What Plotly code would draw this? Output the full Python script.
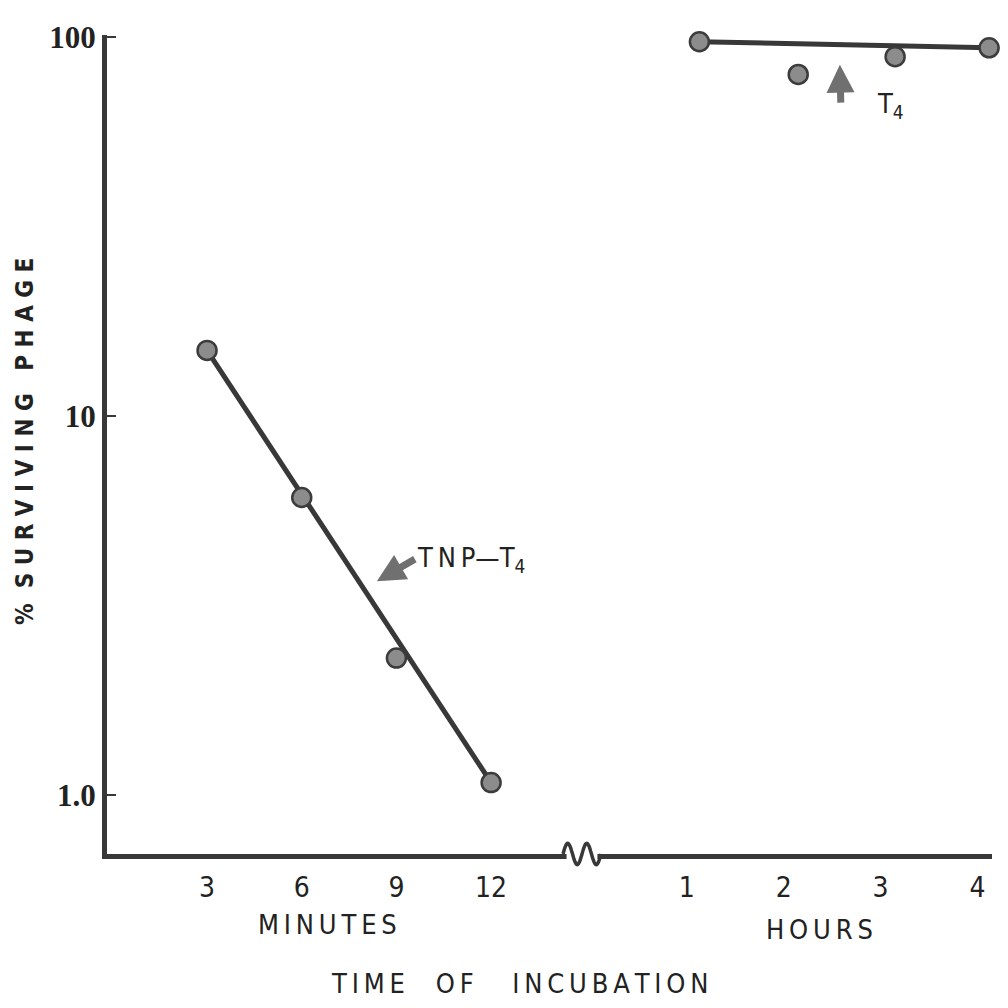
import numpy as np
import plotly.graph_objects as go

# ---- data ----
minutes = [3, 6, 9, 12]
tnp_t4 = [14.9, 6.1, 2.3, 1.08]          # % surviving, TNP-T4
hours = [1.13, 2.15, 3.15, 4.12]
t4 = [97.1, 79.6, 88.7, 93.6]            # % surviving, T4
min_ticks = [3, 6, 9, 12]
hour_ticks = [1, 2, 3, 4]
y_ticks = [1, 10, 100]
y_ticktext = ["1.0", "10", "100"]

# broken x axis: hours drawn after the minute segment
HOUR_ORIGIN = 15.13
HOUR_SCALE = 3.07
def hpos(h):
    return [HOUR_ORIGIN + HOUR_SCALE * v for v in h]

INK = "#222222"
LINE = "#383838"
MFILL = "#8c8c8c"
COND = "DejaVu Sans Condensed"
TS = "\u2009"  # thin space for letter spacing

def spaced(s):
    return TS.join(s)

fig = go.Figure()
# fitted lines
fig.add_trace(go.Scatter(x=[minutes[0], minutes[-1]], y=[tnp_t4[0], tnp_t4[-1]],
                         mode="lines", line=dict(color=LINE, width=5),
                         hoverinfo="skip", showlegend=False, cliponaxis=False))
fig.add_trace(go.Scatter(x=[hpos(hours)[0], hpos(hours)[-1]], y=[t4[0], t4[-1]],
                         mode="lines", line=dict(color=LINE, width=5),
                         hoverinfo="skip", showlegend=False, cliponaxis=False))
# points
marker = dict(size=19, color=MFILL, line=dict(color="#3c3c3c", width=2.5))
fig.add_trace(go.Scatter(x=minutes, y=tnp_t4, mode="markers", marker=marker,
                         name="TNP-T4", showlegend=False, cliponaxis=False))
fig.add_trace(go.Scatter(x=hpos(hours), y=t4, mode="markers", marker=marker,
                         name="T4", showlegend=False, cliponaxis=False))

tickvals = min_ticks + hpos(hour_ticks)
ticktext = [str(v) for v in min_ticks] + [str(v) for v in hour_ticks]

fig.update_layout(
    width=1000, height=1000,
    margin=dict(l=99, r=16, t=17, b=154),
    paper_bgcolor="white", plot_bgcolor="white",
    xaxis=dict(range=[-0.17, 27.87], showgrid=False, zeroline=False,
               showline=True, linecolor=LINE, linewidth=5,
               tickvals=tickvals, ticktext=ticktext, ticks="",
               ticklabelstandoff=4, ticklabeloverflow="allow",
               tickfont=dict(family=COND, size=28, color=INK)),
    yaxis=dict(type="log", range=[np.log10(0.7), 2.005], showgrid=False,
               zeroline=False, showline=True, linecolor=LINE, linewidth=5,
               tickvals=y_ticks, ticktext=y_ticktext, ticks="inside",
               ticklen=9, tickwidth=2, tickcolor=LINE, ticklabelstandoff=0,
               ticklabeloverflow="allow",
               tickfont=dict(family="Liberation Serif", size=31, color=INK,
                             weight="bold")),
)

PW, PH = 885, 829
def pxx(px):
    return (px - 107) / PW
def pxy(py):
    return (854 - py) / PH

anns = [
    dict(text=spaced("MINUTES"), x=pxx(327), y=pxy(925)),
    dict(text=spaced("HOURS"), x=pxx(819), y=pxy(930)),
    dict(text=spaced("TIME") + "    " + spaced("OF") + "     " + spaced("INCUBATION"),
         x=pxx(520), y=pxy(985)),
]
for a in anns:
    fig.add_annotation(xref="paper", yref="paper", showarrow=False,
                       font=dict(family=COND, size=27, color=INK),
                       xanchor="center", yanchor="middle", **a)
fig.add_annotation(xref="paper", yref="paper", x=pxx(25), y=pxy(437), textangle=-90,
                   text="%  S U R V I V I N G   P H A G E", showarrow=False,
                   font=dict(family=COND, size=24, color=INK, weight="bold"),
                   xanchor="center", yanchor="middle")

# labels with arrows
fig.add_annotation(x=8.38, y=np.log10(3.67), xref="x", yref="y",
                   text=spaced("TNP") + "—T<sub>4</sub>", showarrow=True, ax=38, ay=-22,
                   xanchor="left", arrowhead=2, arrowsize=0.8, arrowwidth=7,
                   arrowcolor="#707070",
                   font=dict(family=COND, size=27, color=INK))
fig.add_annotation(x=23.05, y=np.log10(84.5), xref="x", yref="y", text="\u00a0",
                   showarrow=True, ax=1, ay=42, arrowhead=2, arrowsize=0.8,
                   arrowwidth=7, arrowcolor="#707070",
                   font=dict(family=COND, size=4, color=INK))
fig.add_annotation(x=24.15, y=np.log10(66), xref="x", yref="y",
                   text="T<sub>4</sub>", showarrow=False, xanchor="left",
                   font=dict(family=COND, size=27, color=INK))

# axis break squiggle
x0, x1 = pxx(563), pxx(601)
fig.add_shape(type="rect", xref="paper", yref="paper", x0=x0 + 0.004, x1=x1 - 0.004,
              y0=-0.008, y1=0.008, fillcolor="white", line=dict(width=0), layer="above")
t = np.linspace(0, 1, 60)
px = x0 + (x1 - x0) * t
py = 0.013 * np.sin(2 * np.pi * 2 * t)
path = "M " + " L ".join(f"{a:.4f},{b:.4f}" for a, b in zip(px, py))
fig.add_shape(type="path", xref="paper", yref="paper", path=path,
              line=dict(color=LINE, width=3.5), layer="above")

fig.write_html("out.html")
